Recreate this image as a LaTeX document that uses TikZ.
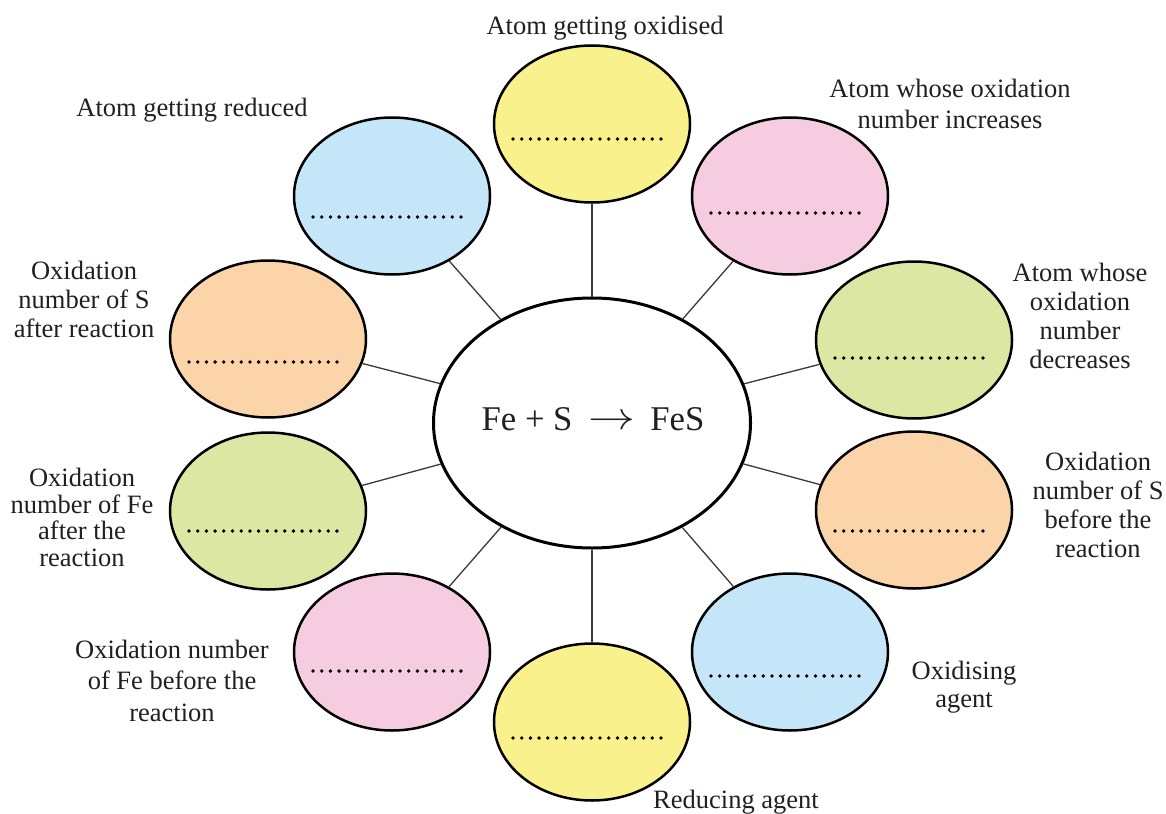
\RequirePackage{fix-cm}
\documentclass[tikz,border=0pt]{standalone}
\usepackage{fontspec}
\usepackage{graphicx}
\setmainfont{Liberation Serif}
\usetikzlibrary{shapes.geometric}
\definecolor{cyellow}{HTML}{F9F18C}
\definecolor{cblue}{HTML}{C5E6F8}
\definecolor{cpink}{HTML}{F6CCE1}
\definecolor{corange}{HTML}{FBD4AA}
\definecolor{cgreen}{HTML}{DCE7A4}
\definecolor{cline}{HTML}{3A3A3A}
\definecolor{ctext}{HTML}{231F20}
\tikzset{
  bubble/.style={ellipse, draw=black, line width=2.5pt, minimum width=196pt, minimum height=157pt, inner sep=0pt},
  hub/.style={ellipse, draw=black, fill=white, line width=3pt, minimum width=317pt, minimum height=250pt, inner sep=0pt},
  link/.style={draw=cline, line width=1.3pt},
  dotline/.style={line width=3.8pt, line cap=round, dash pattern=on 0pt off 8.7pt, draw=black},
  lbl/.style={font=\fontsize{26.5}{29}\selectfont, align=center, anchor=base, text=ctext, inner sep=0pt},
}
\newcommand{\blank}[2]{\draw[dotline] ([xshift=-79pt,yshift=-#2pt]#1.center) -- ([xshift=70pt,yshift=-#2pt]#1.center);}
\begin{document}
\begin{tikzpicture}[x=1pt,y=-1pt]
\useasboundingbox[fill=white] (0,0) rectangle (1166,813);
% hub
\node[hub] (c) at (592,423) {};
\node[text=ctext, font=\fontsize{34.7}{40}\selectfont, anchor=base, inner sep=0pt] (eq) at (593,430) {Fe + S\hspace{16pt}\raisebox{0.5pt}{\scalebox{1.35}[1.12]{$\rightarrow$}}\hspace{15pt}FeS};
% bubbles
\node[bubble, fill=cyellow] (yT) at (592,124) {};
\node[bubble, fill=cblue]   (bTL) at (392,196) {};
\node[bubble, fill=cpink]   (pTR) at (790,196) {};
\node[bubble, fill=corange] (oL) at (268,339) {};
\node[bubble, fill=cgreen]  (gR) at (914,340) {};
\node[bubble, fill=cgreen]  (gL) at (268,511) {};
\node[bubble, fill=corange] (oR) at (914,510) {};
\node[bubble, fill=cpink]   (pBL) at (392,652) {};
\node[bubble, fill=cblue]   (bBR) at (790,652) {};
\node[bubble, fill=cyellow] (yB) at (592,722) {};
% connectors
\foreach \n in {yT,bTL,pTR,oL,gR,gL,oR,pBL,bBR,yB}{\draw[link] (c) -- (\n);}
% blanks
\blank{yT}{15}
\blank{bTL}{21}
\blank{pTR}{17}
\blank{oL}{23}
\blank{gR}{18}
\blank{gL}{20}
\blank{oR}{21}
\blank{pBL}{19}
\blank{bBR}{24}
\blank{yB}{16}
% labels (base anchor = baseline of last line)
\node[lbl] (l1) at (605,35) {Atom getting oxidised};
\node[lbl] (l2) at (192,117) {Atom getting reduced};
\node[lbl, font=\fontsize{26.5}{31}\selectfont] (l3) at (950,129) {Atom whose oxidation\\number increases};
\node[lbl] (l4) at (1080,368) {Atom whose\\oxidation\\number\\decreases};
\node[lbl] (l5) at (84,337) {Oxidation\\number of S\\after reaction};
\node[lbl, font=\fontsize{26.5}{26.5}\selectfont] (l6) at (82,566) {Oxidation\\number of Fe\\after the\\reaction};
\node[lbl] (l7) at (1098,557) {Oxidation\\number of S\\before the\\reaction};
\node[lbl, font=\fontsize{26.5}{31.5}\selectfont] (l8) at (172,721) {Oxidation number\\of Fe before the\\reaction};
\node[lbl, font=\fontsize{26.5}{28}\selectfont] (l9) at (964,707) {Oxidising\\agent};
\node[lbl] (l10) at (736,808) {Reducing agent};
\end{tikzpicture}
\end{document}
